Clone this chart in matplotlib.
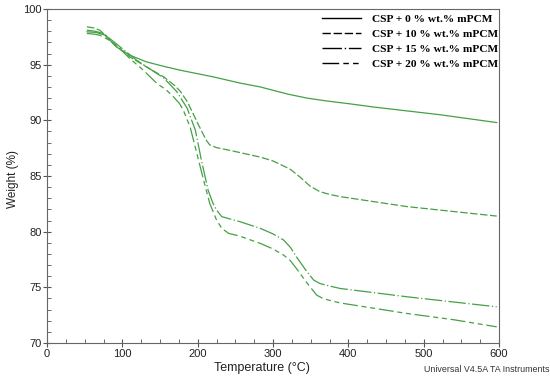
import matplotlib
matplotlib.use("Agg")
import matplotlib.pyplot as plt
from matplotlib.ticker import MultipleLocator
from matplotlib.lines import Line2D

# ---- data ----
temp_0 = [53, 65, 77, 92, 110, 132, 155, 177, 221, 256, 283, 300, 320, 345, 370, 400, 433, 522, 597]
w_0 = [97.95, 97.9, 97.65, 96.6, 95.85, 95.25, 94.85, 94.5, 93.9, 93.35, 93.0, 92.7, 92.35, 92.0, 91.75, 91.5, 91.2, 90.5, 89.8]

temp_10 = [53, 62, 70, 80, 88, 110, 132, 155, 170, 177, 186, 194, 201, 207, 212, 216, 225, 243, 283, 300, 314, 323, 336, 349, 362, 375, 389, 478, 597]
w_10 = [98.4, 98.3, 98.1, 97.5, 96.9, 95.7, 94.8, 93.9, 93.1, 92.6, 91.7, 90.6, 89.6, 88.8, 88.15, 87.8, 87.55, 87.3, 86.7, 86.35, 85.9, 85.6, 84.9, 84.1, 83.6, 83.35, 83.15, 82.25, 81.4]

temp_15 = [53, 64, 75, 86, 97, 119, 137, 155, 172, 186, 197, 205, 214, 220, 225, 232, 256, 283, 300, 314, 323, 331, 344, 354, 362, 370, 389, 478, 597]
w_15 = [98.1, 98.0, 97.8, 97.2, 96.6, 95.4, 94.6, 93.8, 92.6, 91.1, 89.1, 86.4, 83.7, 82.6, 81.95, 81.35, 80.9, 80.3, 79.8, 79.25, 78.6, 77.75, 76.5, 75.65, 75.35, 75.2, 74.9, 74.15, 73.25]

temp_20 = [53, 62, 70, 80, 92, 110, 128, 146, 158, 168, 176, 181, 190, 199, 208, 216, 225, 232, 241, 256, 283, 300, 314, 323, 331, 345, 358, 365, 374, 389, 478, 539, 597]
w_20 = [97.8, 97.75, 97.65, 97.3, 96.75, 95.55, 94.5, 93.3, 92.75, 92.1, 91.5, 90.9, 89.4, 87.0, 84.6, 82.55, 81.05, 80.3, 79.85, 79.6, 78.95, 78.45, 77.9, 77.4, 76.7, 75.4, 74.3, 74.05, 73.85, 73.6, 72.65, 72.1, 71.45]

labels = ["CSP + 0 % wt.% mPCM", "CSP + 10 % wt.% mPCM",
          "CSP + 15 % wt.% mPCM", "CSP + 20 % wt.% mPCM"]
xticks = [0, 100, 200, 300, 400, 500, 600]
yticks = [70, 75, 80, 85, 90, 95, 100]

green = "#45a045"
dashes = [None, (6, 2), (14, 2, 1, 2), (12, 3, 4, 3, 4, 3)]

fig = plt.figure(figsize=(5.5, 3.79), dpi=100)
ax = fig.add_axes([47/550, 1-343/379, (499-47)/550, (343-9)/379])

series = [(temp_0, w_0), (temp_10, w_10), (temp_15, w_15), (temp_20, w_20)]
for (t, w), d in zip(series, dashes):
    ln, = ax.plot(t, w, color=green, lw=0.9)
    if d is not None:
        ln.set_dashes(d)

ax.set_xlim(0, 600)
ax.set_ylim(70, 100)
ax.set_xticks(xticks)
ax.set_yticks(yticks)
ax.xaxis.set_minor_locator(MultipleLocator(25))
ax.yaxis.set_minor_locator(MultipleLocator(1))
ax.tick_params(which="major", direction="inout", length=6, width=0.8, color="#555555",
               labelsize=8, labelcolor="#222222", pad=1)
ax.tick_params(which="minor", direction="in", length=3, width=0.6, color="#555555")
for s in ax.spines.values():
    s.set_color("#666666")
    s.set_linewidth(0.8)
for lab in ax.get_xticklabels() + ax.get_yticklabels():
    lab.set_family("Liberation Sans")

ax.set_xlabel("Temperature (°C)", fontsize=9, family="Liberation Sans", color="#222222")
ax.set_ylabel("Weight (%)", fontsize=8.5, family="Liberation Sans", color="#222222")
ax.xaxis.set_label_coords((262-47)/452, -0.058)
ax.yaxis.set_label_coords(-0.062, 0.49)

handles = []
for d in dashes:
    h = Line2D([0], [0], color="black", lw=1.0)
    if d is not None:
        h.set_dashes(d)
    handles.append(h)
leg = fig.legend(handles, labels, loc="upper left", bbox_to_anchor=(322/550, 1-14/379),
                 frameon=False, handlelength=3.4, handletextpad=1.0, labelspacing=0.45,
                 borderaxespad=0, borderpad=0,
                 prop={"family": "Liberation Serif", "size": 8.2, "weight": "bold"})

fig.text(549/550, 1-369/379, "Universal V4.5A TA Instruments", ha="right", va="center",
         fontsize=6.4, family="Liberation Sans", color="#333333")

fig.savefig("out.png", dpi=100)
